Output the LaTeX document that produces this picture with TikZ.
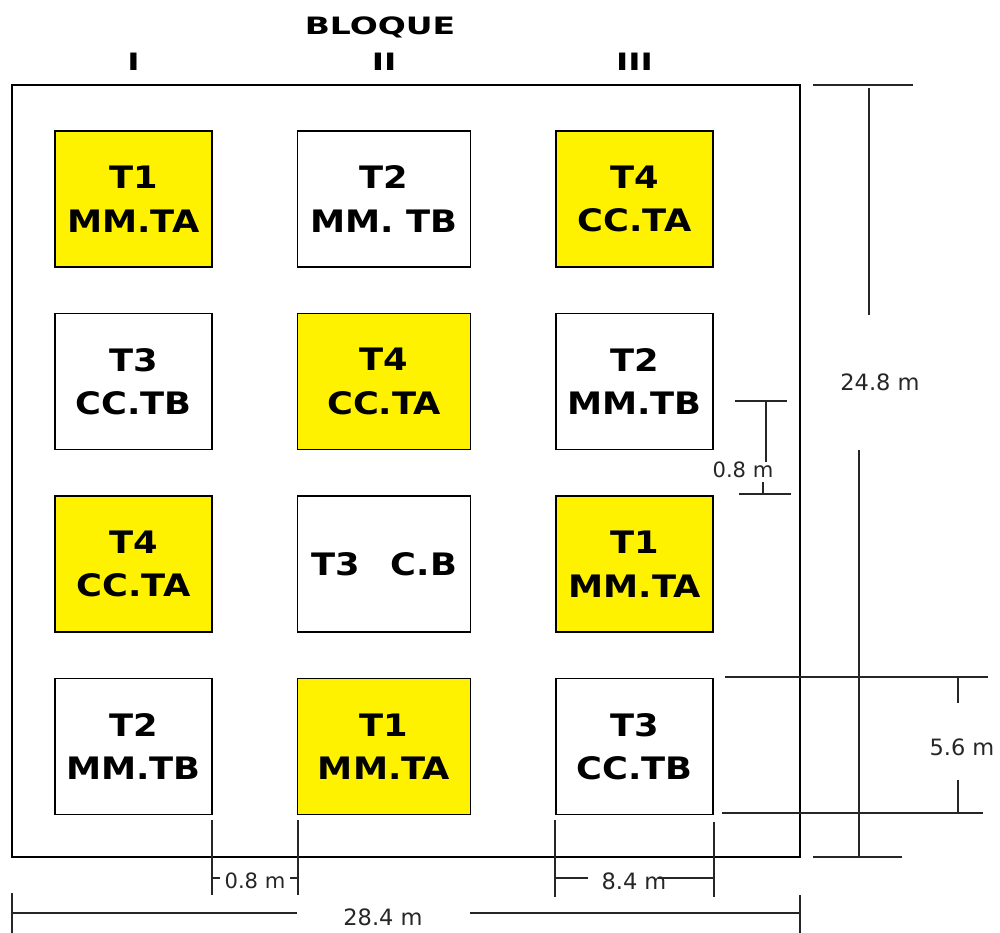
\documentclass[tikz,border=0pt]{standalone}
\usepackage{fontspec}
\setmainfont{DejaVu Sans}
\newfontfamily\plotfont{DejaVu Sans}[FakeStretch=1.14]
\newfontfamily\headfont{DejaVu Sans}[FakeStretch=1.38]
\usetikzlibrary{positioning}

\begin{document}
\begin{tikzpicture}[
    x=0.025cm, y=-0.025cm,
    node distance=1.12cm and 2.1cm,
    plot/.style={draw, line width=1.2pt, inner sep=0pt, minimum height=3.4cm, align=center,
        font=\plotfont\bfseries\fontsize{22}{31}\selectfont},
    narrow/.style={plot, minimum width=3.92cm},
    wide/.style={plot, minimum width=4.32cm},
    high/.style={fill=yellow},
    dim/.style={draw=black!85, line width=1pt},
    dimtext/.style={font=\fontsize{16}{16}\selectfont, text=black!85, inner sep=1pt},
    smalltext/.style={font=\fontsize{15}{15}\selectfont, text=black!85, inner sep=1pt},
    head/.style={font=\headfont\bfseries\fontsize{17}{17}\selectfont, inner sep=1pt}
]
\useasboundingbox (0,0) rectangle (1000,933);

% Field
\node[draw, line width=1.2pt, inner sep=0pt, minimum width=19.7cm, minimum height=19.3cm] (field) at (406,471) {};

% Plots, block I
\node[narrow, high] (i1) at (133.5,199) {T1\\MM.TA};
\node[narrow, below=of i1] (i2) {T3\\CC.TB};
\node[narrow, high, below=of i2] (i3) {T4\\CC.TA};
\node[narrow, below=of i3] (i4) {T2\\MM.TB};

% Plots, block II
\node[wide, right=of i1] (ii1) {T2\\MM. TB};
\node[wide, high, below=of ii1] (ii2) {T4\\CC.TA};
\node[wide, below=of ii2] (ii3) {T3\quad C.B};
\node[wide, high, below=of ii3] (ii4) {T1\\MM.TA};

% Plots, block III
\node[narrow, high, right=of ii1] (iii1) {T4\\CC.TA};
\node[narrow, below=of iii1] (iii2) {T2\\MM.TB};
\node[narrow, high, below=of iii2] (iii3) {T1\\MM.TA};
\node[narrow, below=of iii3] (iii4) {T3\\CC.TB};

% Headings
\coordinate (hdr) at (0,62);
\node[head] (bloque) at (380,27) {BLOQUE};
\node[head] (hI) at (i1 |- hdr) {I};
\node[head] (hII) at (ii1 |- hdr) {II};
\node[head] (hIII) at (iii1 |- hdr) {III};

% Total height
\draw[dim] (813,85) -- (913,85);
\draw[dim] (869,88) -- (869,315);
\node[dimtext] (height) at (880,382) {24.8 m};
\draw[dim] (859,450) -- (859,857);
\draw[dim] (813,857) -- (902,857);

% Gap between plots
\draw[dim] (735,401) -- (787,401);
\draw[dim] (766,401) -- (766,462);
\node[smalltext] (gapv) at (743,470) {0.8 m};
\draw[dim] (763,482) -- (763,494);
\draw[dim] (739,494) -- (791,494);

% Plot length
\draw[dim] (725,677) -- (988,677);
\draw[dim] (722,813) -- (983,813);
\draw[dim] (958,677) -- (958,703);
\node[dimtext] (plotlen) at (962,747) {5.6 m};
\draw[dim] (958,780) -- (958,813);

% Gap between blocks
\draw[dim] (212,820) -- (212,895);
\draw[dim] (298,820) -- (298,895);
\draw[dim] (212,878) -- (220,878);
\node[smalltext] (gaph) at (255,881) {0.8 m};
\draw[dim] (290,878) -- (298,878);

% Plot width
\draw[dim] (555,820) -- (555,897);
\draw[dim] (714,822) -- (714,897);
\draw[dim] (555,878) -- (588,878);
\node[dimtext] (plotwid) at (634,881) {8.4 m};
\draw[dim] (658,878) -- (714,878);

% Total width
\draw[dim] (12,893) -- (12,933);
\draw[dim] (12,913) -- (297,913);
\node[dimtext] (width) at (383,917) {28.4 m};
\draw[dim] (470,913) -- (800,913);
\draw[dim] (800,895) -- (800,933);

\end{tikzpicture}
\end{document}
